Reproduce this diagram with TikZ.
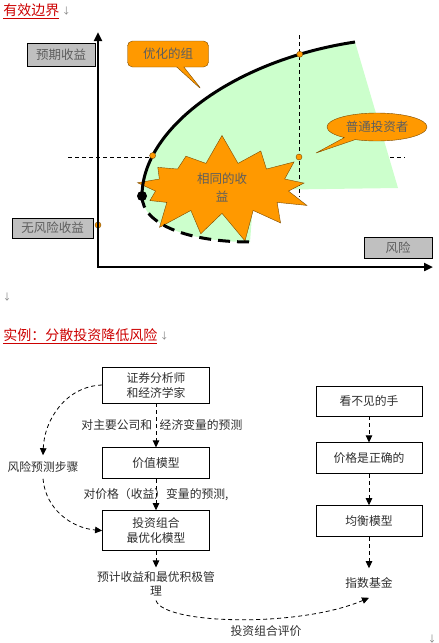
\documentclass[tikz,border=0pt]{standalone}
\usepackage{fontspec}
\setmainfont{Noto Sans CJK SC}
\usetikzlibrary{arrows.meta,positioning,shapes.callouts,shapes.symbols}

\definecolor{titlered}{HTML}{CC0000}
\definecolor{calloutorange}{HTML}{FF9900}
\definecolor{calloutrim}{HTML}{7A4A00}
\definecolor{palegreen}{HTML}{CCFFCC}
\definecolor{boxgray}{HTML}{C0C0C0}
\definecolor{labelgray}{HTML}{5E5E5E}
\definecolor{inkgray}{HTML}{2E2E2E}

\begin{document}
\begin{tikzpicture}[
    x = 1pt, y = -1pt, % one unit per pixel, y downwards
    > = {Triangle[length=7pt,width=6.5pt]}, % arrow head style
    semithick % line style
    ]

    \tikzset{
    titletext/.style = {anchor=west, inner sep=0pt, text=titlered,
        font=\fontsize{14}{16}\selectfont},
    parmark/.style = {inner sep=0pt, text=gray, font=\fontsize{9}{10}\selectfont},
    axislabel/.style = {draw, fill=boxgray, text=labelgray, inner sep=0pt,
        font=\fontsize{12.5}{14}\selectfont},
    bubble/.style = {fill=calloutorange, draw=calloutrim, thin, text=labelgray,
        font=\fontsize{12.5}{15}\selectfont, align=center},
    orangedot/.style = {circle, fill=calloutorange, draw=calloutrim, thin,
        inner sep=0pt, minimum size=6pt},
    guide/.style = {thin, dash pattern=on 4pt off 3pt},
    modelbox/.style = {draw, thick, minimum width=107pt, minimum height=31pt,
        inner sep=2pt, text=inkgray, align=center,
        font=\fontsize{11.8}{15}\selectfont},
    plaintext/.style = {text=inkgray, align=center,
        font=\fontsize{11.8}{14}\selectfont},
    flowarrow/.style = {->, thick, dash pattern=on 4pt off 3pt}
    }
    \useasboundingbox (0,0) rectangle (439,643);

    % --- efficient frontier ---
    \node[titletext] (title1) at (3,11) {\underline{有效边界}};
    \node[parmark] (pm1) [right=2pt of title1] {↓};

    \draw[guide] (68,157) -- (405,157);
    \fill[palegreen] (142,196) .. controls (142,128) and (235,60) .. (355,42)
        -- (398,188) -- (254,190) -- (250,242)
        .. controls (190,242) and (142,225) .. cycle;
    \draw[guide] (299,35) -- (299,197);

    \node[starburst, starburst points=13, starburst point height=30pt,
        random starburst=7, fill=calloutorange, draw=calloutrim, thin,
        minimum width=194pt, minimum height=84pt, text=labelgray,
        align=center, font=\fontsize{12.5}{18}\selectfont]
        (same) at (222,188) {相同的收\\益};

    \draw[line width=3pt] (142,196) .. controls (142,128) and (235,60) .. (355,42)
        coordinate[pos=0.2] (eff1) coordinate[pos=0.84] (eff2);
    \draw[line width=3pt, dash pattern=on 12pt off 7pt]
        (142,196) .. controls (142,225) and (190,242) .. (250,242);

    \node[bubble, rectangle callout, rounded corners=5pt,
        minimum width=81pt, minimum height=26pt,
        callout absolute pointer={(202,90)}] (best) at (168,54) {优化的组};
    \node[bubble, ellipse callout, minimum width=100pt, minimum height=28pt,
        inner sep=0pt, callout absolute pointer={(316,153)}]
        (investor) at (377,127) {普通投资者};

    \node[circle, fill=black, inner sep=0pt, minimum size=10pt] (minvar) at (142,196) {};
    \node[orangedot] (d1) at (eff1) {};
    \node[orangedot] (d2) at (eff2) {};
    \node[orangedot] (d3) at (299,157) {};
    \node[orangedot] (d4) at (98,225) {};

    \draw[line width=2.5pt, {Triangle[length=9pt,width=8pt]}-{Triangle[length=9pt,width=8pt]}]
        (98,32) |- (433,267);

    \node[axislabel, minimum width=68pt, minimum height=23pt] (ret) at (61,54.5) {预期收益};
    \node[axislabel, minimum width=81pt, minimum height=20pt] (riskfree) at (52.5,228) {无风险收益};
    \node[axislabel, minimum width=68pt, minimum height=21pt] (risk) at (398,247.5) {风险};

    \node[parmark] (pm2) at (7,297) {↓};

    % --- diversification example ---
    \node[titletext] (title2) at (3,336) {\underline{实例：分散投资降低风险}};
    \node[parmark] (pm3) [right=2pt of title2] {↓};

    \node[modelbox, minimum height=36pt] (analyst) at (156,385) {证券分析师\\和经济学家};
    \node[modelbox] (value) [below=44pt of analyst] {价值模型};
    \node[modelbox, minimum height=40pt] (optimal) [below=31pt of value] {投资组合\\最优化模型};
    \node[plaintext, inner sep=4pt] (manage) at (156,584) {预计收益和最优积极管\\理};
    \node[plaintext, inner sep=6pt] (riskstep) at (43,467) {风险预测步骤};

    \node[modelbox, minimum width=106pt, minimum height=30pt] (hand) at (369,401) {看不见的手};
    \node[modelbox, minimum width=106pt] (price) [below=26pt of hand] {价格是正确的};
    \node[modelbox, minimum width=106pt] (equil) [below=31pt of price] {均衡模型};
    \node[plaintext, inner sep=9pt] (index) at (369,583) {指数基金};

    \path[flowarrow] (analyst) edge node[plaintext, left]{对主要公司和}
        node[plaintext, right]{经济变量的预测} (value);
    \path[flowarrow] (value) edge node[plaintext]{对价格（收益）变量的预测,} (optimal);
    \path[flowarrow] (optimal) edge (manage);
    \path[flowarrow] (analyst.west) edge[out=182, in=88] (riskstep.north);
    \path[flowarrow] (riskstep.south) edge[out=-85, in=175] (optimal.west);
    \draw[flowarrow] (manage.south) .. controls +(8,24) and +(-70,30) .. (index.south)
        node[plaintext, pos=0.6, below=3pt]{投资组合评价};

    \path[flowarrow] (hand) edge (price);
    \path[flowarrow] (price) edge (equil);
    \path[flowarrow] (equil) edge (index);

    \node[parmark] (pm4) at (432,639) {↓};
\end{tikzpicture}
\end{document}
